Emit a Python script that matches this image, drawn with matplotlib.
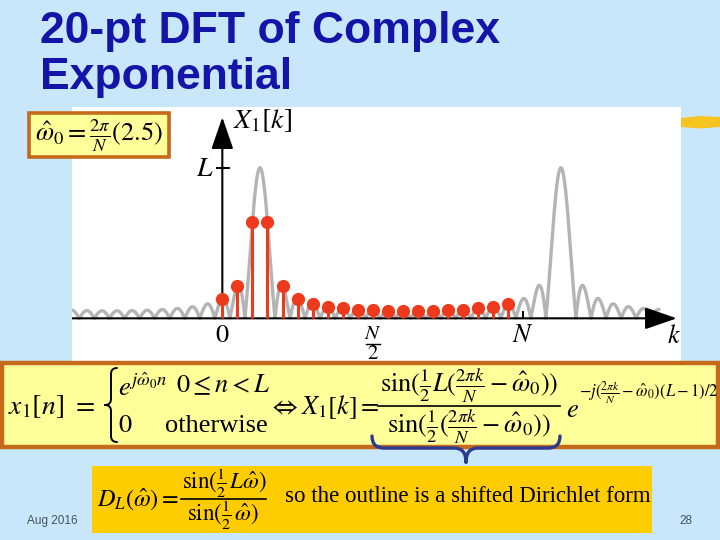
import numpy as np
import matplotlib
matplotlib.use('Agg')
import matplotlib.pyplot as plt
from matplotlib.patches import Rectangle, Polygon, FancyArrowPatch, PathPatch
from matplotlib.path import Path

plt.rcParams['mathtext.fontset'] = 'stix'
plt.rcParams['font.family'] = ['Liberation Serif', 'DejaVu Serif']

# ---------------- data ----------------
N = 20                      # DFT length
L = 20                      # signal length (peak height)
k_shift = 2.5               # omega0 = 2*pi/N * k_shift
k_idx = list(range(20))
X1_mag = [2.61, 4.28, 12.75, 12.75, 4.28, 2.61, 1.91, 1.54, 1.32, 1.17,
          1.08, 1.03, 1.00, 1.00, 1.03, 1.08, 1.17, 1.32, 1.54, 1.91]
env_k_range = (-10.0, 29.0)

W, H = 720, 540
BG = '#C9E7FB'
RED = '#EE3A1C'
GRAY = '#B4B4B4'
YEL = '#FFFF99'
BORDER = '#C46A1A'
GOLD = '#FFCC00'
NAVY = '#2B3990'
TITLE = '#1414A8'

fig = plt.figure(figsize=(W / 100, H / 100), dpi=100)
fig.patch.set_facecolor(BG)

# ---------------- plot panel ----------------
ax = fig.add_axes([72 / W, 1 - 362 / H, 609 / W, 255 / H])
ax.set_facecolor('white')
for s in ax.spines.values():
    s.set_visible(False)
ax.set_xticks([])
ax.set_yticks([])
ax.set_xlim(-9.99, 30.48)
ax.set_ylim(-5.8, 28.06)

# Dirichlet outline (shifted), as given on the slide
kk = np.linspace(env_k_range[0], env_k_range[1], 3001)
d = kk - k_shift
num = np.sin(np.pi * L * d / N)
den = np.sin(np.pi * d / N)
env = np.abs(np.divide(num, den, out=np.full_like(d, float(L)), where=np.abs(den) > 1e-9))
ax.plot(kk, env, color=GRAY, lw=2.4, zorder=2)

# axes arrows
ax.add_patch(FancyArrowPatch((-10, 0), (30.2, 0), arrowstyle='-|>,head_length=1.1,head_width=0.38',
                             mutation_scale=18, color='black', lw=1.5, zorder=3,
                             shrinkA=0, shrinkB=0))
ax.add_patch(FancyArrowPatch((0, 0), (0, 26.7), arrowstyle='-|>,head_length=1.1,head_width=0.38',
                             mutation_scale=18, color='black', lw=1.5, zorder=3,
                             shrinkA=0, shrinkB=0))
# ticks
ax.plot([-0.35, 0.45], [L, L], color='black', lw=1.4, zorder=3)
for kt in (N / 2, N):
    ax.plot([kt, kt], [0, 0.85], color='black', lw=1.4, zorder=3)

# DFT stems
ax.vlines(k_idx, 0, X1_mag, color=RED, lw=2.2, zorder=4)
ax.plot(k_idx, X1_mag, 'o', color=RED, ms=8.5, mec=RED, zorder=5)

# labels
ax.text(0.7, 26.3, r'$X_1[k]$', fontsize=20, ha='left', va='center')
ax.text(-0.55, L - 0.2, r'$L$', fontsize=20, ha='right', va='center')
ax.text(0, -2.4, r'$0$', fontsize=19, ha='center', va='center')
ax.text(N, -2.4, r'$N$', fontsize=19, ha='center', va='center')
ax.text(30.0, -2.4, r'$k$', fontsize=19, ha='center', va='center')
ax.text(N / 2, -2.2, r'$N$', fontsize=15, ha='center', va='center')
ax.plot([N / 2 - 0.45, N / 2 + 0.45], [-3.45, -3.45], color='black', lw=1.0, clip_on=False)
ax.text(N / 2, -4.85, r'$2$', fontsize=15, ha='center', va='center')

# ---------------- slide overlay ----------------
ov = fig.add_axes([0, 0, 1, 1], zorder=10)
ov.set_xlim(0, W)
ov.set_ylim(H, 0)
ov.axis('off')

SANS = ['Liberation Sans', 'DejaVu Sans']
ov.text(40, 43, '20-pt DFT of Complex', family=SANS, weight='bold', fontsize=32,
        color=TITLE, va='baseline', ha='left')
ov.text(40, 89, 'Exponential', family=SANS, weight='bold', fontsize=32,
        color=TITLE, va='baseline', ha='left')

# yellow stroke at top right
ov.add_patch(Polygon([(681, 118), (700, 116), (720, 117), (720, 127), (700, 128.5), (681, 127)],
                     closed=True, fc='#F6C320', ec='none'))

# omega0 box
ov.add_patch(Rectangle((29, 113), 140, 44, fc=YEL, ec=BORDER, lw=2.6))
ov.text(99, 136, r'$\hat{\omega}_0 = \frac{2\pi}{N}(%s)$' % k_shift, fontsize=19,
        ha='center', va='center')


def brace(axis, p0, p1, depth, tip, color, lw, vertical=False):
    """Curly brace between p0 and p1, bulging by depth, with a tip."""
    if not vertical:
        (x0, y0), (x1, _) = p0, p1
        ym = y0 + depth
        xm = (x0 + x1) / 2
        r = abs(depth)
        verts = [(x0, y0), (x0, ym), (x0 + r, ym), (xm - r, ym), (xm, ym), (xm, ym + tip),
                 (x1, y0), (x1, ym), (x1 - r, ym), (xm + r, ym), (xm, ym), (xm, ym + tip)]
    else:
        (x0, y0), (_, y1) = p0, p1
        xm_ = x0 - depth
        ym = (y0 + y1) / 2
        r = abs(depth)
        verts = [(x0, y0), (xm_, y0), (xm_, y0 + r), (xm_, ym - r), (xm_, ym), (xm_ - tip, ym),
                 (x0, y1), (xm_, y1), (xm_, y1 - r), (xm_, ym + r), (xm_, ym), (xm_ - tip, ym)]
    codes = [Path.MOVETO, Path.CURVE3, Path.CURVE3, Path.LINETO, Path.CURVE3, Path.CURVE3] * 2
    axis.add_patch(PathPatch(Path(verts, codes), fc='none', ec=color, lw=lw,
                             capstyle='round', joinstyle='round'))


# main formula box
ov.add_patch(Rectangle((2, 363), 716, 84, fc=YEL, ec=BORDER, lw=3.2))
FS = 19
ov.text(8, 407, r'$x_1[n]\ =$', fontsize=20, ha='left', va='center')
brace(ov, (117, 368), (117, 442), 6, 6, 'black', 1.4, vertical=True)
ov.text(118, 387, r'$e^{j\hat{\omega}_0 n}$', fontsize=FS, ha='left', va='center')
ov.text(176, 385, r'$0 \leq n < L$', fontsize=FS, ha='left', va='center')
ov.text(118, 426, r'$0$', fontsize=FS, ha='left', va='center')
ov.text(165, 426, 'otherwise', fontsize=FS, ha='left', va='center')
ov.text(269, 407, r'$\Leftrightarrow X_1[k] =$', fontsize=FS, ha='left', va='center')
ov.text(469, 386, r'$\sin(\frac{1}{2}L(\frac{2\pi k}{N}-\hat{\omega}_0))$', fontsize=FS,
        ha='center', va='center')
ov.plot([378, 560], [406, 406], color='black', lw=1.2)
ov.text(469, 427, r'$\sin(\frac{1}{2}(\frac{2\pi k}{N}-\hat{\omega}_0))$', fontsize=FS,
        ha='center', va='center')
ov.text(566, 411, r'$e$', fontsize=FS, ha='left', va='center')
ov.text(579, 393, r'$-j(\frac{2\pi k}{N}-\hat{\omega}_0)(L-1)/2$', fontsize=12,
        ha='left', va='center')

# navy brace
brace(ov, (372, 436), (560, 436), 12, 14, NAVY, 2.4)

# bottom gold box
ov.add_patch(Rectangle((92, 466), 560, 67, fc=GOLD, ec='none'))
ov.text(97, 499, r'$D_L(\hat{\omega}) =$', fontsize=17.5, ha='left', va='center')
ov.text(224, 483, r'$\sin(\frac{1}{2}\,L\hat{\omega})$', fontsize=16.5, ha='center', va='center')
ov.plot([181, 266], [499, 499], color='black', lw=1.2)
ov.text(223, 515, r'$\sin(\frac{1}{2}\,\hat{\omega})$', fontsize=16.5, ha='center', va='center')
ov.text(285, 497, 'so the outline is a shifted Dirichlet form', fontsize=16.5,
        ha='left', va='center')

# footer
ov.text(27, 521, 'Aug 2016', family=SANS, fontsize=8.5, color='#44525F', ha='left', va='center')
ov.text(686, 521, '28', family=SANS, fontsize=8.5, color='#44525F', ha='center', va='center')

fig.savefig('out.png', dpi=100, facecolor=fig.get_facecolor())
